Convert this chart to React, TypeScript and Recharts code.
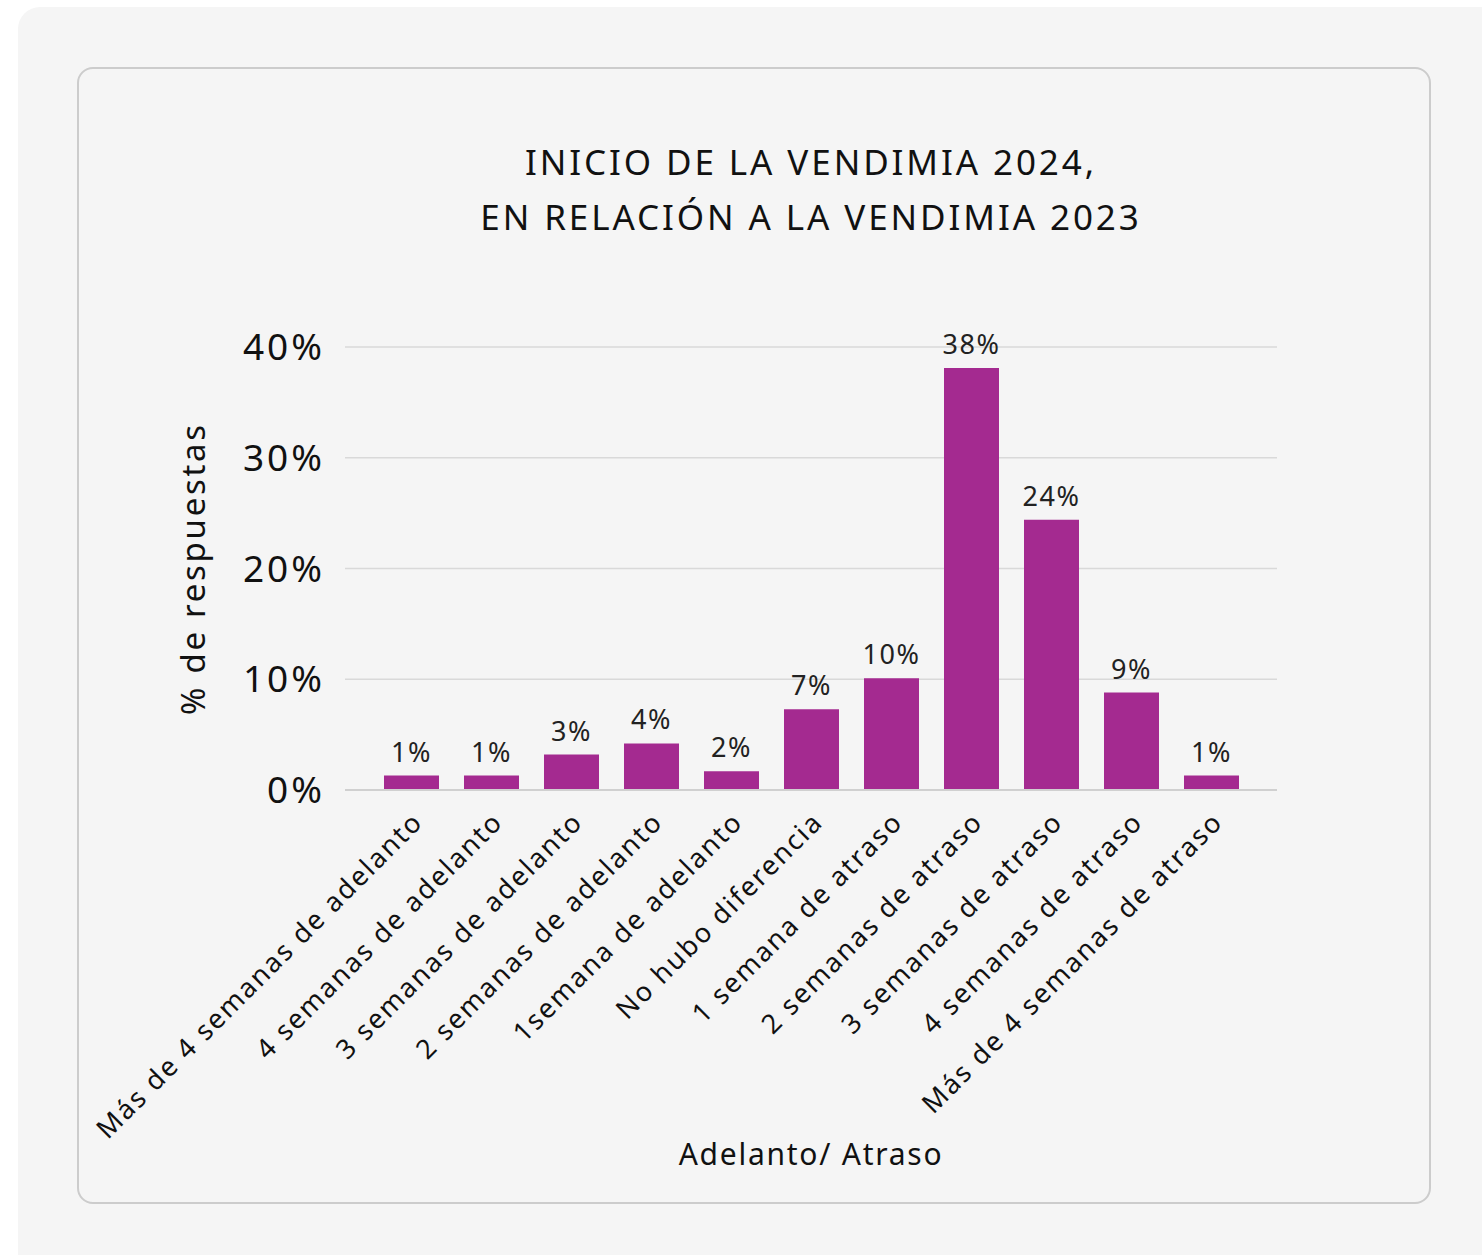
import React from 'react';
import { BarChart, Bar, XAxis, YAxis, CartesianGrid, LabelList, Label } from 'recharts';

// categorías del eje X
const categorias: string[] = [
  'Más de 4 semanas de adelanto',
  '4 semanas de adelanto',
  '3 semanas de adelanto',
  '2 semanas de adelanto',
  '1semana de adelanto',
  'No hubo diferencia',
  '1 semana de atraso',
  '2 semanas de atraso',
  '3 semanas de atraso',
  '4 semanas de atraso',
  'Más de 4 semanas de atraso',
];

// % de respuestas
const porcentajes: number[] = [1.3, 1.3, 3.2, 4.2, 1.7, 7.3, 10.1, 38.1, 24.4, 8.8, 1.3];

const ticksY: number[] = [0, 10, 20, 30, 40];

const data = categorias.map((c, i) => ({ categoria: c, valor: porcentajes[i] }));

const FONT = '"Noto Sans", sans-serif';
const MORADO = '#a42a90';

const App: React.FC = () => {
  return (
    <div style={{ position: 'absolute', left: 0, top: 0, width: 1482, height: 1255, background: '#fff', overflow: 'hidden', fontFamily: FONT }}>
      <div style={{ position: 'absolute', left: 18, top: 7, width: 1500, height: 1300, background: '#f5f5f5', borderRadius: 22 }} />
      <div style={{ position: 'absolute', left: 77, top: 67, width: 1350, height: 1133, border: '2px solid #cccccc', borderRadius: 16 }} />

      <div style={{ position: 'absolute', left: 0, top: 134, width: 1622, textAlign: 'center', fontSize: 35, lineHeight: '55px', letterSpacing: 2.9, color: '#111' }}>
        INICIO DE LA VENDIMIA 2024,
        <br />
        EN RELACIÓN A LA VENDIMIA 2023
      </div>

      <div style={{ position: 'absolute', left: 0, top: 0 }}>
        <BarChart
          width={1482}
          height={1255}
          data={data}
          margin={{ top: 347, right: 205, left: 41, bottom: 85 }}
          barSize={55}
        >
          <CartesianGrid vertical={false} stroke="#d9d9d9" strokeWidth={1.5} />
          <XAxis
            dataKey="categoria"
            interval={0}
            height={380}
            padding={{ left: 26, right: 26 }}
            angle={-45}
            textAnchor="end"
            tickLine={false}
            tickSize={0}
            tickMargin={20}
            axisLine={{ stroke: '#d0d0d0', strokeWidth: 2 }}
            tick={{ fontSize: 27, fill: '#111', fontFamily: FONT, letterSpacing: 2 }}
          >
            <Label value="Adelanto/ Atraso" position="insideBottom" offset={5} style={{ fontSize: 30, fill: '#111', fontFamily: FONT, letterSpacing: 1.75 }} />
          </XAxis>
          <YAxis
            width={304}
            domain={[0, 40]}
            ticks={ticksY}
            tickFormatter={(v: number) => `${v}%`}
            axisLine={false}
            tickLine={false}
            tickSize={0}
            tickMargin={20}
            tick={{ fontSize: 37, fill: '#111', fontFamily: FONT, letterSpacing: 3 }}
          >
            <Label value="% de respuestas" angle={-90} position="center" style={{ fontSize: 33, fill: '#111', fontFamily: FONT, textAnchor: 'middle', letterSpacing: 2.7 }} />
          </YAxis>
          <Bar dataKey="valor" fill={MORADO} isAnimationActive={false}>
            <LabelList
              dataKey="valor"
              position="top"
              offset={14}
              formatter={(v: any) => `${Math.round(Number(v))}%`}
              style={{ fontSize: 27, fill: '#222', fontFamily: FONT, letterSpacing: 1.5 }}
            />
          </Bar>
        </BarChart>
      </div>
    </div>
  );
};

export default App;
